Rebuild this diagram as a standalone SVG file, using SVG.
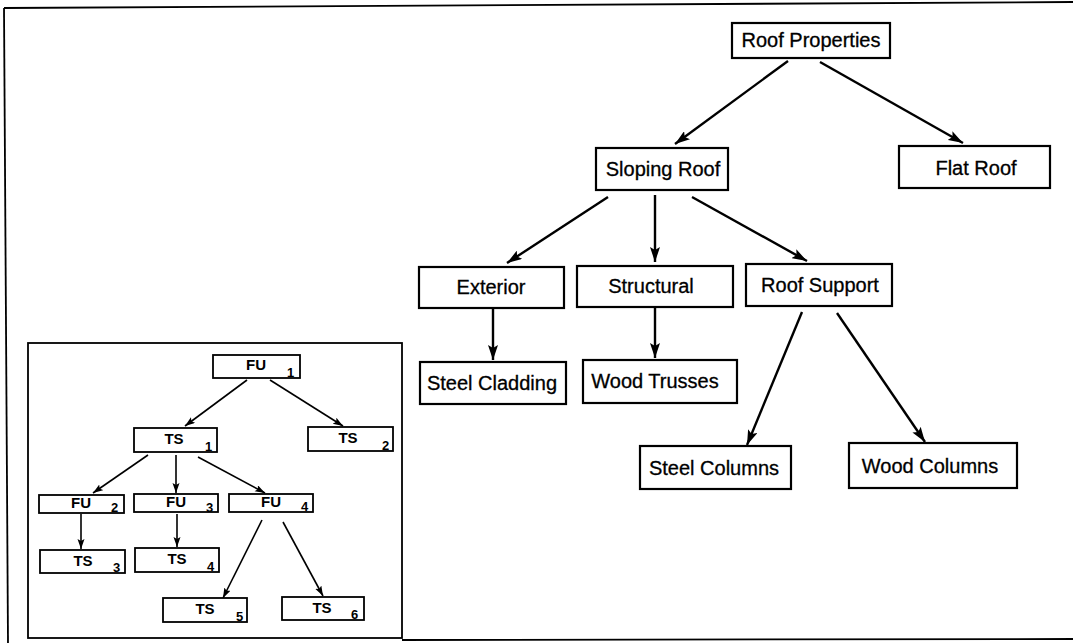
<svg xmlns="http://www.w3.org/2000/svg" width="1073" height="643" viewBox="0 0 1073 643">
<defs>
<style>
.box{fill:#fff;stroke:#000;stroke-width:2.2}
.sbox{fill:#fff;stroke:#000;stroke-width:1.8}
.lbl{font-family:"Liberation Sans",Arial,sans-serif;font-size:20px;fill:#000;stroke:#000;stroke-width:0.3;text-anchor:middle}
.slbl{font-family:"Liberation Sans",Arial,sans-serif;font-size:15px;font-weight:bold;fill:#000;text-anchor:middle}
.sub{font-family:"Liberation Sans",Arial,sans-serif;font-size:13px;font-weight:bold;fill:#000}
.edge{stroke:#000;stroke-width:2.4;fill:none;marker-end:url(#ah)}
.sedge{stroke:#000;stroke-width:1.6;fill:none;marker-end:url(#sah)}
.frame{stroke:#000;stroke-width:1.8;fill:none}
</style>
<marker id="ah" markerUnits="userSpaceOnUse" markerWidth="16" markerHeight="10" refX="15" refY="5" orient="auto">
<path d="M0,0 L15,5 L0,10 L3,5 z" fill="#000"/>
</marker>
<marker id="sah" markerUnits="userSpaceOnUse" markerWidth="11" markerHeight="8" refX="10" refY="3.5" orient="auto">
<path d="M0,0 L10,3.5 L0,7 L2,3.5 z" fill="#000"/>
</marker>
</defs>
<rect width="1073" height="643" fill="#fff"/>
<g id="frame">
<line class="frame" x1="4" y1="8" x2="1073" y2="2"/>
<line class="frame" x1="4" y1="8" x2="8" y2="643"/>
<line class="frame" x1="402" y1="640" x2="1073" y2="639"/>
<rect class="frame" x="28" y="343" width="374" height="295"/>
</g>
<g id="connectors">
<line class="edge" x1="788" y1="61" x2="675" y2="144"/>
<line class="edge" x1="820" y1="62" x2="963" y2="143"/>
<line class="edge" x1="608" y1="197" x2="507" y2="263"/>
<line class="edge" x1="655" y1="195" x2="655" y2="262"/>
<line class="edge" x1="692" y1="197" x2="807" y2="261"/>
<line class="edge" x1="493" y1="309" x2="493" y2="360"/>
<line class="edge" x1="655" y1="308" x2="655" y2="358"/>
<line class="edge" x1="802" y1="312" x2="747" y2="445"/>
<line class="edge" x1="837" y1="313" x2="925" y2="442"/>
<line class="sedge" x1="247" y1="380" x2="185" y2="426"/>
<line class="sedge" x1="270" y1="380" x2="343" y2="426"/>
<line class="sedge" x1="148" y1="455" x2="93" y2="493"/>
<line class="sedge" x1="176" y1="455" x2="176" y2="493"/>
<line class="sedge" x1="198" y1="457" x2="265" y2="493"/>
<line class="sedge" x1="81" y1="514" x2="81" y2="549"/>
<line class="sedge" x1="177" y1="514" x2="177" y2="547"/>
<line class="sedge" x1="262" y1="520" x2="223" y2="598"/>
<line class="sedge" x1="283" y1="522" x2="323" y2="596"/>
</g>
<g id="roof-properties"><rect class="box" x="732" y="23" width="158" height="35"/><text class="lbl" x="811" y="47">Roof Properties</text></g>
<g id="sloping-roof"><rect class="box" x="596" y="148" width="132" height="42"/><text class="lbl" x="663" y="176">Sloping Roof</text></g>
<g id="flat-roof"><rect class="box" x="899" y="146" width="151" height="42"/><text class="lbl" x="976" y="175">Flat Roof</text></g>
<g id="exterior"><rect class="box" x="419" y="267" width="145" height="41"/><text class="lbl" x="491" y="294">Exterior</text></g>
<g id="structural"><rect class="box" x="577" y="266" width="156" height="41"/><text class="lbl" x="651" y="293">Structural</text></g>
<g id="roof-support"><rect class="box" x="746" y="264" width="146" height="42"/><text class="lbl" x="820" y="292">Roof Support</text></g>
<g id="steel-cladding"><rect class="box" x="420" y="362" width="146" height="42"/><text class="lbl" x="492" y="390">Steel Cladding</text></g>
<g id="wood-trusses"><rect class="box" x="583" y="360" width="154" height="43"/><text class="lbl" x="655" y="388">Wood Trusses</text></g>
<g id="steel-columns"><rect class="box" x="640" y="446" width="151" height="43"/><text class="lbl" x="714" y="475">Steel Columns</text></g>
<g id="wood-columns"><rect class="box" x="849" y="443" width="168" height="45"/><text class="lbl" x="930" y="473">Wood Columns</text></g>
<g id="fu1"><rect class="sbox" x="213" y="355" width="87" height="23"/><text class="slbl" x="256" y="370">FU</text><text class="sub" x="287" y="377">1</text></g>
<g id="ts1"><rect class="sbox" x="134" y="428" width="83" height="24"/><text class="slbl" x="174" y="444">TS</text><text class="sub" x="205" y="451">1</text></g>
<g id="ts2"><rect class="sbox" x="308" y="427" width="85" height="24"/><text class="slbl" x="348" y="443">TS</text><text class="sub" x="382" y="450">2</text></g>
<g id="fu2"><rect class="sbox" x="39" y="495" width="85" height="18"/><text class="slbl" x="81" y="508">FU</text><text class="sub" x="111" y="512">2</text></g>
<g id="fu3"><rect class="sbox" x="134" y="494" width="84" height="18"/><text class="slbl" x="176" y="507">FU</text><text class="sub" x="206" y="512">3</text></g>
<g id="fu4"><rect class="sbox" x="229" y="494" width="84" height="18"/><text class="slbl" x="271" y="507">FU</text><text class="sub" x="301" y="511">4</text></g>
<g id="ts3"><rect class="sbox" x="40" y="550" width="85" height="23"/><text class="slbl" x="83" y="566">TS</text><text class="sub" x="113" y="572">3</text></g>
<g id="ts4"><rect class="sbox" x="135" y="548" width="84" height="24"/><text class="slbl" x="177" y="564">TS</text><text class="sub" x="207" y="571">4</text></g>
<g id="ts5"><rect class="sbox" x="163" y="598" width="84" height="24"/><text class="slbl" x="205" y="614">TS</text><text class="sub" x="236" y="621">5</text></g>
<g id="ts6"><rect class="sbox" x="282" y="597" width="82" height="23"/><text class="slbl" x="322" y="613">TS</text><text class="sub" x="351" y="619">6</text></g>
</svg>
